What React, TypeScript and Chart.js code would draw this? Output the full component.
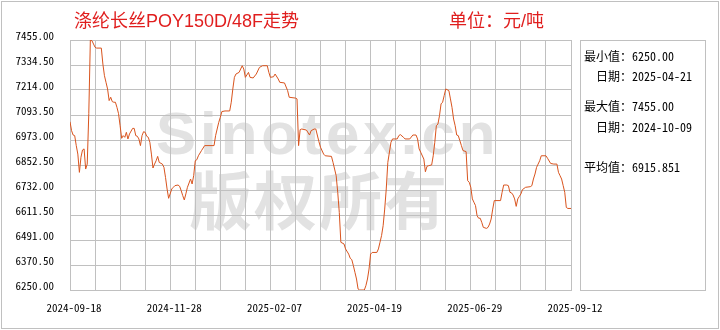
import React, { useEffect, useRef } from 'react';
import { Chart, registerables } from 'chart.js';

Chart.register(...registerables);

const titleText = '涤纶长丝POY150D/48F走势';
const unitText = '单位：元/吨';
const watermarkLatin = 'Sinotex.cn';
const watermarkCjk = '版权所有';

const xTickLabels = ['2024-09-18', '2024-11-28', '2025-02-07', '2025-04-19', '2025-06-29', '2025-09-12'];
const xLastIndex = 320;
const xGridStep = 16;
const xLabelEvery = 64;

const yTickMin = 6250;
const yTickMax = 7455;
const yTickStep = 120.5;

const summaryLabels = ['最小值：', '日期：', '最大值：', '日期：', '平均值：'];
const summaryValues = ['6250.00', '2025-04-21', '7455.00', '2024-10-09', '6915.851'];

// trading-day index of each sampled point
const pointIndex = [
  0, 1, 2, 3, 4, 5, 6, 7, 8, 9, 10, 11, 12, 13, 14, 16, 17, 20, 21, 22, 23, 24, 25, 26, 27, 28, 29, 30,
  31, 32, 33, 34, 35, 36, 37, 38, 40, 41, 42, 43, 44, 45, 46, 47, 48, 49, 50, 51, 52, 53, 54, 55, 56, 57,
  59, 60, 61, 62, 63, 65, 66, 67, 69, 70, 71, 72, 73, 74, 75, 77, 78, 79, 80, 81, 82, 84, 86, 92, 93, 94,
  95, 96, 97, 99, 102, 103, 104, 105, 106, 108, 110, 111, 112, 114, 115, 117, 119, 121, 123, 126, 127, 128,
  130, 131, 133, 134, 137, 139, 140, 144, 145, 146, 147, 148, 151, 153, 154, 156, 157, 159, 160, 162, 163,
  167, 168, 169, 170, 171, 172, 173, 175, 176, 178, 179, 180, 181, 182, 183, 184, 185, 188, 189, 190, 191,
  192, 193, 196, 197, 198, 199, 200, 201, 202, 203, 205, 206, 209, 210, 211, 213, 214, 217, 219, 221, 222,
  223, 224, 226, 227, 228, 229, 231, 232, 233, 234, 235, 236, 237, 238, 239, 240, 242, 243, 244, 245, 246,
  247, 248, 249, 250, 251, 253, 254, 255, 256, 257, 258, 259, 260, 261, 262, 263, 264, 266, 267, 268, 269,
  270, 271, 275, 276, 277, 279, 280, 281, 282, 283, 284, 285, 286, 287, 288, 289, 291, 294, 295, 296, 297,
  298, 299, 300, 301, 304, 305, 307, 309, 311, 312, 313, 314, 315, 316, 317, 318, 320,
];

const priceValues = [
  7061, 7018, 6997, 6994, 6946, 6905, 6817, 6890, 6925, 6930, 6833, 6857, 7100, 7455, 7452, 7420, 7416, 7416, 7339, 7283, 7251, 7219, 7163, 7179, 7158, 7155, 7155, 7130,
  7100, 7042, 6981, 6994, 6986, 7010, 6978, 7002, 7029, 7029, 6994, 6991, 6978, 6946, 6994, 7013, 7010, 6991, 6986, 6962, 6905, 6838, 6857, 6873, 6894, 6865,
  6857, 6841, 6793, 6737, 6692, 6737, 6745, 6753, 6756, 6750, 6729, 6705, 6684, 6713, 6745, 6785, 6761, 6801, 6873, 6878, 6897, 6922, 6946, 6946, 6994, 7026,
  7058, 7082, 7110, 7113, 7113, 7155, 7219, 7275, 7291, 7299, 7331, 7315, 7275, 7299, 7275, 7272, 7291, 7323, 7331, 7331, 7299, 7275,
  7278, 7291, 7267, 7251, 7248, 7211, 7179, 7175, 7171, 6946, 7023, 7026, 7021, 6997, 7018, 7026, 7026, 6965, 6938, 6905, 6897,
  6894, 6865, 6833, 6801, 6721, 6624, 6480, 6472, 6448, 6423, 6403, 6396, 6367, 6335, 6303, 6255, 6250, 6250, 6271, 6303, 6351,
  6423, 6431, 6431, 6448, 6480, 6512, 6560, 6640, 6737, 6865, 6962, 6978, 6978, 6994, 6999, 6986, 6978, 6978, 6997, 6997, 6978,
  6930, 6914, 6881, 6820, 6846, 6849, 6853, 6897, 6962, 7042, 7050, 7090, 7147, 7155, 7187, 7219, 7211, 7171, 7130, 7074, 7042,
  6997, 6994, 6970, 6946, 6922, 6917, 6777, 6769, 6745, 6689, 6673, 6657, 6608, 6596, 6596, 6576, 6552, 6547, 6552, 6568, 6592,
  6640, 6681, 6681, 6721, 6756, 6756, 6753, 6721, 6718, 6708, 6689, 6653, 6689, 6701, 6713, 6734, 6745, 6748, 6753, 6785, 6809,
  6841, 6857, 6873, 6897, 6897, 6885, 6860, 6857, 6857, 6817, 6801, 6785, 6753, 6721, 6648, 6643, 6643,
];

const AXIS_FONT = "'Noto Sans Mono CJK SC', 'Liberation Mono', monospace";
const GRID = '#c0c0c0';

const decorPlugin = {
  id: 'decor',
  beforeDraw(chart: any) {
    const { ctx } = chart;
    ctx.save();
    ctx.fillStyle = '#ffffff';
    ctx.fillRect(0, 0, chart.width, chart.height);
    // watermark (below grid)
    ctx.fillStyle = '#e2e2e2';
    ctx.textAlign = 'left';
    ctx.textBaseline = 'alphabetic';
    ctx.font = "bold 60px 'Liberation Sans', Arial, sans-serif";
    try { (ctx as any).letterSpacing = '4px'; } catch (e) {}
    ctx.fillText(watermarkLatin, 156, 154);
    try { (ctx as any).letterSpacing = '2px'; } catch (e) {}
    ctx.font = "bold 63px 'Noto Sans CJK SC', sans-serif";
    ctx.textBaseline = 'middle';
    ctx.fillText(watermarkCjk, 189, 200);
    try { (ctx as any).letterSpacing = '0px'; } catch (e) {}
    ctx.restore();
  },
  afterDraw(chart: any) {
    const { ctx } = chart;
    ctx.save();
    ctx.strokeStyle = GRID;
    ctx.lineWidth = 1;
    ctx.strokeRect(1.5, 1.5, 717, 327);
    ctx.strokeRect(580.5, 40.5, 125, 250);

    ctx.fillStyle = '#e01e1e';
    ctx.textBaseline = 'middle';
    ctx.textAlign = 'left';
    ctx.font = "18px 'Liberation Sans', 'Noto Sans CJK SC', sans-serif";
    ctx.fillText(titleText, 74, 22);
    ctx.fillText(unitText, 449, 22);

    ctx.fillStyle = '#000000';
    ctx.font = "12px " + AXIS_FONT;
    const rows = [
      { x: 584, y: 56 },
      { x: 596, y: 76 },
      { x: 584, y: 106 },
      { x: 596, y: 127 },
      { x: 584, y: 167 },
    ];
    rows.forEach((r, i) => {
      ctx.fillText(summaryLabels[i] + summaryValues[i], r.x, r.y);
    });
    ctx.restore();
  },
};

export default function App() {
  const ref = useRef<HTMLCanvasElement | null>(null);

  useEffect(() => {
    if (!ref.current) return;
    const chart = new Chart(ref.current, {
      type: 'line',
      data: {
        datasets: [
          {
            data: pointIndex.map((x, i) => ({ x, y: priceValues[i] })),
            borderColor: '#d9541e',
            borderWidth: 1,
            pointRadius: 0,
            tension: 0,
            fill: false,
          },
        ],
      },
      options: {
        animation: false,
        responsive: false,
        maintainAspectRatio: false,
        devicePixelRatio: 1,
        layout: { padding: { left: 0, top: 40, right: 149, bottom: 0 } },
        plugins: { legend: { display: false }, tooltip: { enabled: false } },
        scales: {
          x: {
            type: 'linear',
            min: 0,
            max: xLastIndex,
            afterFit: (s: any) => { s.height = 40; },
            grid: { color: GRID, drawTicks: false, lineWidth: 1 },
            border: { display: true, color: GRID },
            ticks: {
              stepSize: xGridStep,
              autoSkip: false,
              maxRotation: 0,
              padding: 11,
              labelOffset: 4,
              color: '#000',
              font: { family: AXIS_FONT, size: 11 },
              callback: (v: any) => (Number(v) % xLabelEvery === 0 ? xTickLabels[Number(v) / xLabelEvery] : ''),
            },
          },
          y: {
            min: yTickMin,
            max: yTickMax,
            afterFit: (s: any) => { s.width = 70; },
            afterBuildTicks: (s: any) => {
              const t = [];
              for (let k = 0; k <= 10; k++) t.push({ value: yTickMin + yTickStep * k });
              s.ticks = t;
            },
            grid: { color: GRID, drawTicks: false, lineWidth: 1 },
            border: { display: true, color: GRID },
            ticks: {
              padding: 16,
              labelOffset: -4,
              color: '#000',
              font: { family: AXIS_FONT, size: 11 },
              callback: (v: any) => Number(v).toFixed(2),
            },
          },
        },
      },
      plugins: [decorPlugin],
    });
    return () => chart.destroy();
  }, []);

  return (
    <div style={{ position: 'absolute', left: 0, top: 0, width: 720, height: 330 }}>
      <canvas ref={ref} width={720} height={330} style={{ width: 720, height: 330, display: 'block' }} />
    </div>
  );
}
